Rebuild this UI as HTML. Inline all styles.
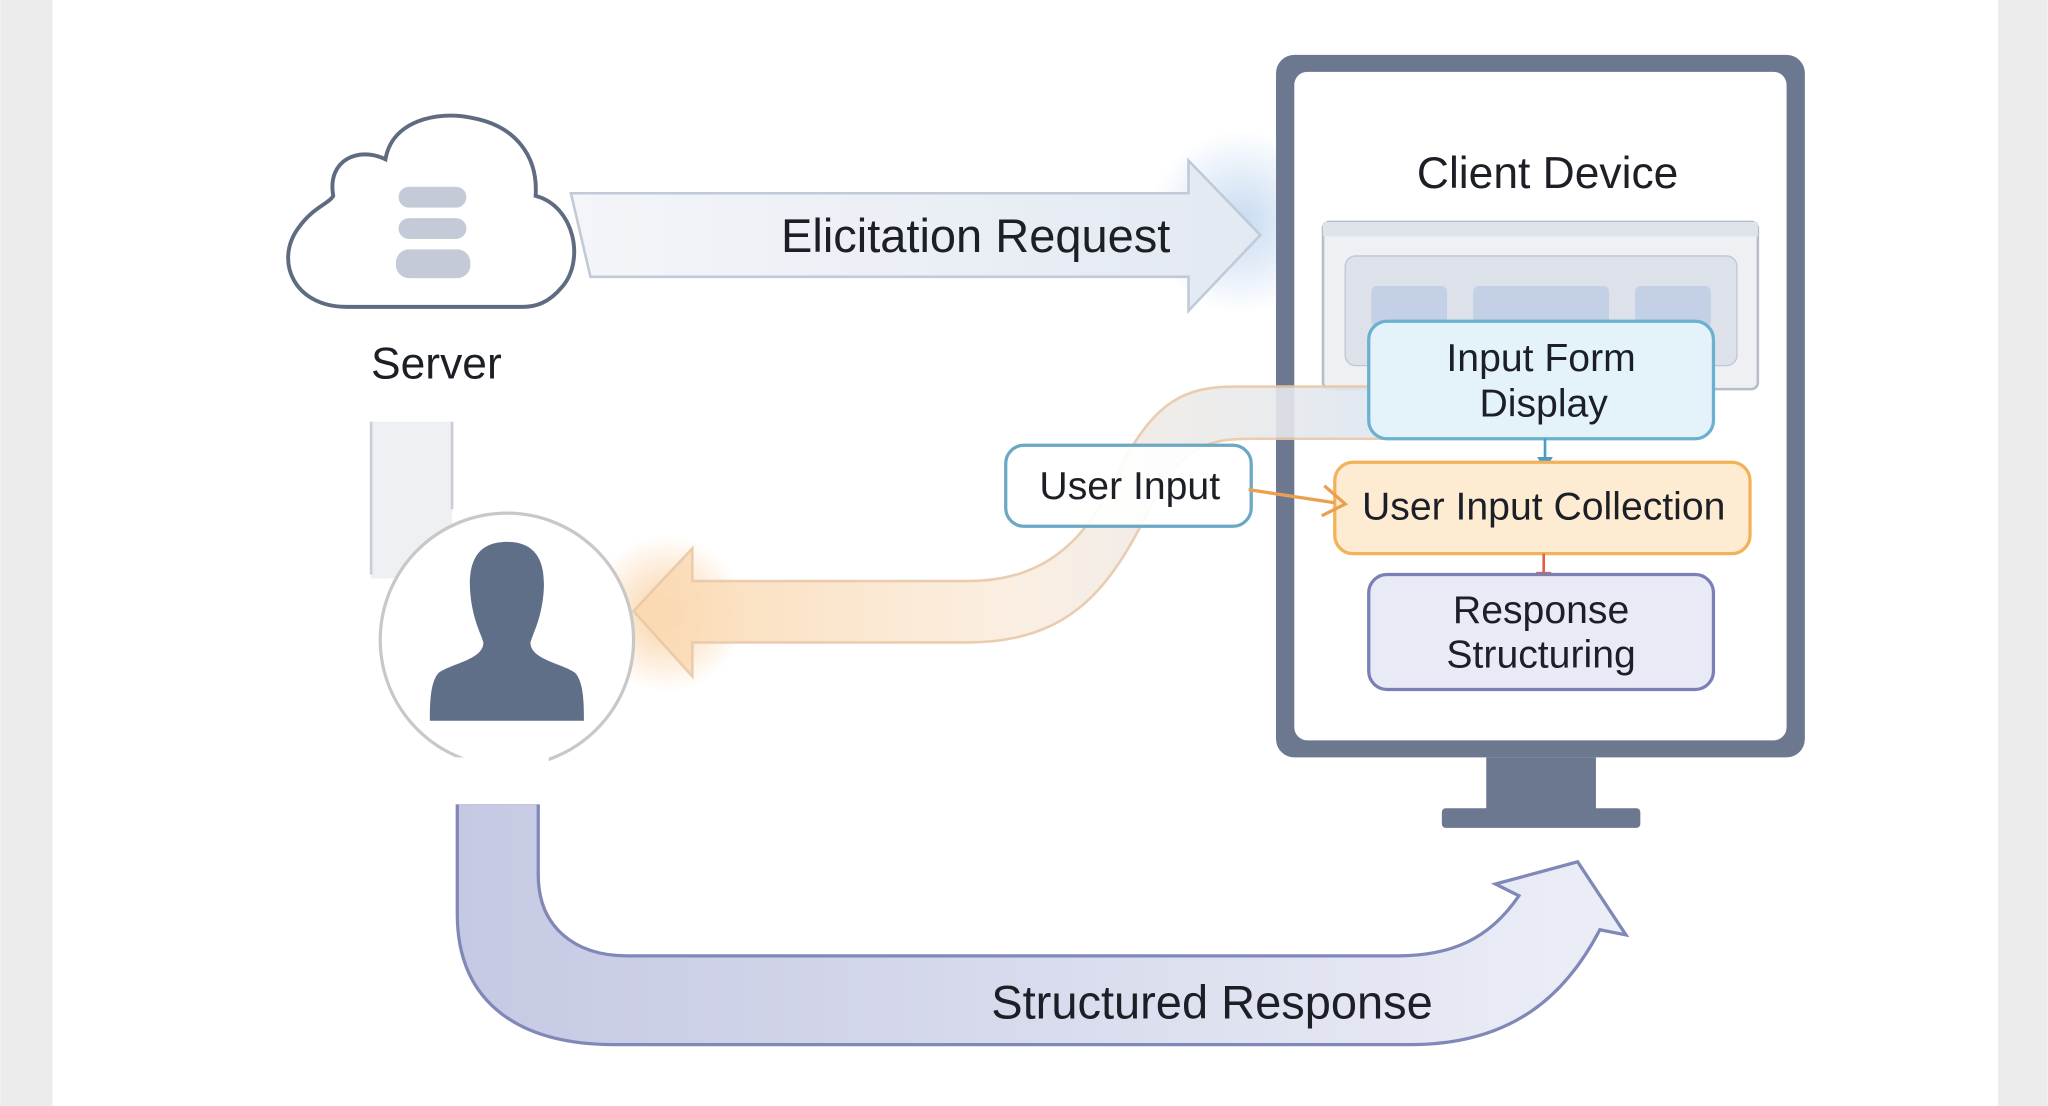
<!DOCTYPE html>
<html><head><meta charset="utf-8"><style>
html,body{margin:0;padding:0;background:#fff;}
svg{display:block;}
text{font-family:"Liberation Sans","DejaVu Sans",sans-serif;fill:#1c1f26;}
</style></head><body>
<svg width="2048" height="1106" viewBox="0 0 1568 847" xmlns="http://www.w3.org/2000/svg">
<defs>
<linearGradient id="el" x1="0" x2="1"><stop offset="0" stop-color="#f3f5f9"/><stop offset="1" stop-color="#e3e9f2"/></linearGradient>
<linearGradient id="sr" x1="0" x2="1"><stop offset="0" stop-color="#c5c9e3"/><stop offset="1" stop-color="#eceef7"/></linearGradient>
<linearGradient id="or" x1="0" x2="1"><stop offset="0" stop-color="#fbd9b0"/><stop offset="0.5" stop-color="#fbeee0"/><stop offset="1" stop-color="#dde6f2"/></linearGradient>
<radialGradient id="glowO"><stop offset="0" stop-color="#f8c48a" stop-opacity="0.8"/><stop offset="1" stop-color="#f8c48a" stop-opacity="0"/></radialGradient>
<radialGradient id="glowB"><stop offset="0" stop-color="#b9d2ee" stop-opacity="0.8"/><stop offset="1" stop-color="#b9d2ee" stop-opacity="0"/></radialGradient>
</defs>
<rect width="1568" height="847" fill="#fff"/>
<rect x="0" y="0" width="40" height="847" fill="#ececec"/>
<rect x="1530" y="0" width="38" height="847" fill="#ececec"/>
<ellipse cx="950" cy="170" rx="70" ry="70" fill="url(#glowB)"/>
<ellipse cx="510" cy="470" rx="60" ry="60" fill="url(#glowO)"/>

<!-- server vertical -->
<rect x="284" y="323" width="62" height="120" fill="#eef0f4"/>
<line x1="284" y1="323" x2="284" y2="440" stroke="#c8cdd6" stroke-width="2"/>
<line x1="346" y1="323" x2="346" y2="390" stroke="#c8cdd6" stroke-width="2"/>

<!-- cloud -->
<path d="M265,235 C225,235 210,200 228,175 C240,158 252,156 255,150 C250,122 275,112 295,122 C300,92 335,85 360,90 C395,96 412,120 410,150 C440,158 448,200 430,220 C420,232 410,235 400,235 Z" fill="#fff" stroke="#5f6b80" stroke-width="3"/>
<rect x="305" y="143" width="52" height="16" rx="8" fill="#c4cad8"/>
<rect x="305" y="167" width="52" height="16" rx="8" fill="#c4cad8"/>
<rect x="303" y="191" width="57" height="22" rx="10" fill="#c4cad8"/>
<text x="334" y="290" font-size="34" text-anchor="middle">Server</text>

<!-- elicitation arrow -->
<path d="M437,148 L910,148 L910,123 L965,180 L910,238 L910,212 L452,212 Z" fill="url(#el)" stroke="#c0cad8" stroke-width="2"/>
<text x="747" y="193" font-size="36" text-anchor="middle">Elicitation Request</text>

<!-- monitor -->
<rect x="977" y="42" width="405" height="538" rx="14" fill="#6b7890"/>
<rect x="991" y="55" width="377" height="512" rx="10" fill="#fff"/>
<rect x="1138" y="580" width="84" height="40" fill="#6b7890"/>
<rect x="1104" y="619" width="152" height="15" rx="3" fill="#6b7890"/>
<text x="1185" y="144" font-size="34" text-anchor="middle">Client Device</text>
<rect x="1013" y="170" width="333" height="128" rx="5" fill="#eef0f4" stroke="#b8bec9" stroke-width="2"/>
<rect x="1013" y="170" width="333" height="11" fill="#dfe3ea"/>
<rect x="1030" y="196" width="300" height="84" rx="8" fill="#dde1ea" stroke="#c0c6d2"/>
<rect x="1050" y="219" width="58" height="31" rx="4" fill="#c4d0e6"/>
<rect x="1128" y="219" width="104" height="31" rx="4" fill="#c4d0e6"/>
<rect x="1252" y="219" width="58" height="31" rx="4" fill="#c4d0e6"/>

<!-- orange curved return arrow -->
<path d="M1070,296 L945,296 C905,296 885,310 862,350 C835,410 805,445 740,445 L530,445 L530,420 L485,468 L530,518 L530,492 L740,492 C820,492 850,450 880,390 C905,340 925,336 960,336 L1070,336 Z" fill="url(#or)" stroke="#e8c8a8" stroke-width="2" opacity="0.9"/>

<rect x="1048" y="246" width="264" height="90" rx="14" fill="#e4f2f9" stroke="#6bb0cf" stroke-width="2.5"/>
<text x="1180" y="284" font-size="30" text-anchor="middle">Input Form</text>
<text x="1182" y="319" font-size="30" text-anchor="middle">Display</text>
<line x1="1183" y1="336" x2="1183" y2="352" stroke="#4a9cc4" stroke-width="2"/>
<path d="M1177,350 L1183,360 L1189,350 Z" fill="#4a9cc4"/>
<rect x="1022" y="354" width="318" height="70" rx="14" fill="#fdebd2" stroke="#f2b25a" stroke-width="2.5"/>
<text x="1182" y="398" font-size="30" text-anchor="middle">User Input Collection</text>
<line x1="1182" y1="424" x2="1182" y2="440" stroke="#e06040" stroke-width="2"/>
<path d="M1176,438 L1182,448 L1188,438 Z" fill="#e06040"/>
<rect x="1048" y="440" width="264" height="88" rx="14" fill="#e8eaf6" stroke="#7a7fb8" stroke-width="2.5"/>
<text x="1180" y="477" font-size="30" text-anchor="middle">Response</text>
<text x="1180" y="511" font-size="30" text-anchor="middle">Structuring</text>

<!-- user input box -->
<rect x="770" y="341" width="188" height="62" rx="14" fill="#fff" fill-opacity="0.9" stroke="#6ba8c4" stroke-width="2.5"/>
<text x="865" y="382" font-size="30" text-anchor="middle">User Input</text>
<line x1="956" y1="375" x2="1022" y2="385" stroke="#eba050" stroke-width="2.5"/>
<path d="M1014,372 L1030,386 L1012,395" fill="none" stroke="#eba050" stroke-width="2.5"/>

<!-- user circle -->
<circle cx="388" cy="490" r="97" fill="#fff" stroke="#c8c8c8" stroke-width="2.5"/>
<path d="M388,415 C412,415 418,432 416,455 C414,475 408,485 406,492 C406,505 430,508 440,515 C447,522 447,540 447,552 L329,552 C329,540 329,522 336,515 C346,508 370,505 370,492 C368,485 362,475 360,455 C358,432 364,415 388,415 Z" fill="#5f6f88"/>

<!-- structured response -->
<path d="M350,615 L350,700 C350,770 400,800 470,800 L1080,800 C1160,800 1200,760 1225,712 L1245,716 L1208,660 L1145,677 L1163,686 C1140,720 1110,732 1070,732 L480,732 C440,732 412,710 412,670 L412,615 Z" fill="url(#sr)" stroke="#8088b8" stroke-width="2.5"/>
<rect x="345" y="580" width="75" height="36" fill="#fff"/>
<text x="928" y="780" font-size="36" text-anchor="middle">Structured Response</text>
</svg>
</body></html>
